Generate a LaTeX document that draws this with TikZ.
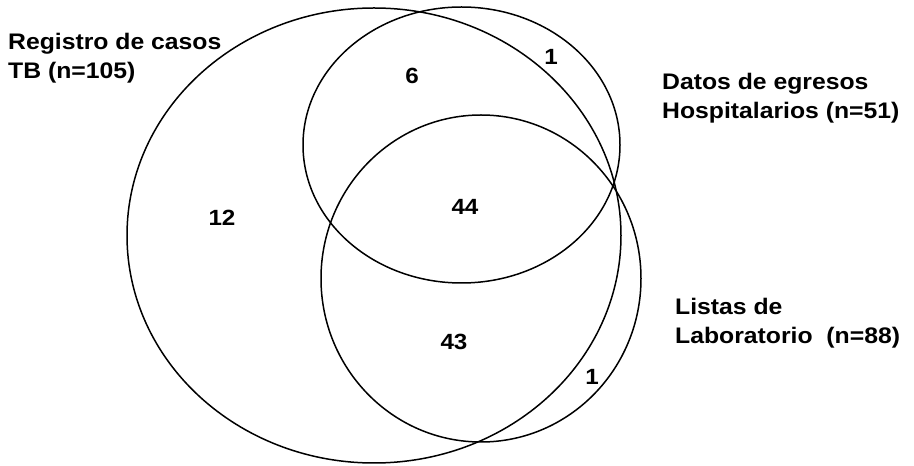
\documentclass[tikz,border=0pt]{standalone}
\usepackage{fontspec}
\setmainfont{Liberation Sans}
\newfontfamily\widesans[FakeStretch=1.1]{Liberation Sans}
\begin{document}
\begin{tikzpicture}[x=1pt,y=1pt,
  set/.style={line width=1.5pt},
  lbl/.style={font=\widesans\bfseries\fontsize{22.5}{29}\selectfont, align=left, anchor=north west, inner sep=0pt},
  num/.style={font=\widesans\bfseries\fontsize{22}{25}\selectfont, inner sep=0pt}]
\useasboundingbox (0,0) rectangle (914,466);
% the three sets
\draw[set] (374,230.5) ellipse [x radius=247, y radius=227.5];
\draw[set] (461.5,321) ellipse [x radius=158.5, y radius=138];
\draw[set] (481,187.5) ellipse [x radius=160, y radius=163.5];
% set names
\node[lbl] (registro) at (8,433) {Registro de casos\\TB (n=105)};
\node[lbl] (egresos) at (662,393) {Datos de egresos\\Hospitalarios (n=51)};
\node[lbl] (listas) at (675,168) {Listas de\\Laboratorio~~(n=88)};
% counts
\node[num] (rd) at (412,390) {6};
\node[num] (d) at (551,409) {1};
\node[num] (rdl) at (465,259) {44};
\node[num] (r) at (222,248) {12};
\node[num] (rl) at (454,124) {43};
\node[num] (l) at (592,89) {1};
\end{tikzpicture}
\end{document}
